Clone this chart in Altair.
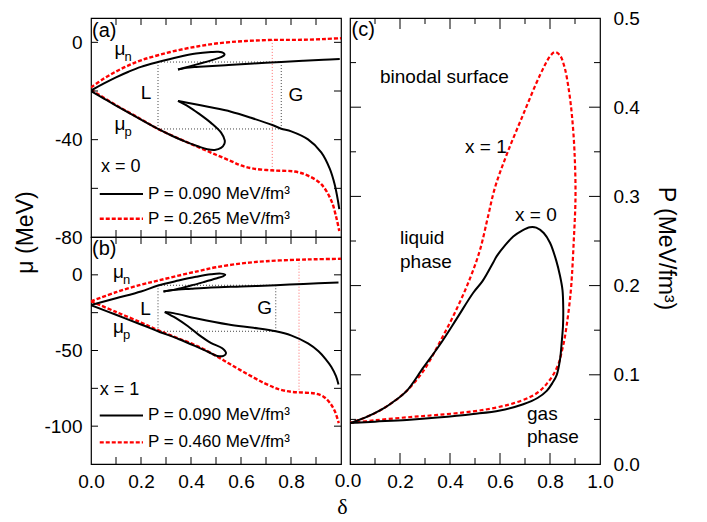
import altair as alt
import pandas as pd

FONT = "Liberation Sans"
RED = "#ff0000"

# ---------------- panel (a): x = 0 ----------------
a_blk_n1_d = [0.0, 0.05, 0.1, 0.15, 0.2, 0.268, 0.35, 0.42, 0.48, 0.51, 0.53, 0.534, 0.52, 0.49, 0.44, 0.39, 0.348]
a_blk_n1_m = [-19.8, -17.0, -14.4, -12.1, -10.1, -8.1, -6.0, -4.6, -4.0, -3.9, -4.4, -5.1, -6.1, -7.1, -8.6, -10.0, -11.2]
a_blk_n2_d = [0.348, 0.38, 0.42, 0.468, 0.55, 0.65, 0.761, 0.85, 0.93, 0.995]
a_blk_n2_m = [-11.2, -10.5, -10.1, -9.8, -9.3, -8.7, -8.1, -7.6, -7.2, -6.8]
a_blk_p1_d = [0.0, 0.05, 0.1, 0.15, 0.2, 0.268, 0.33, 0.38, 0.43, 0.465, 0.495, 0.52, 0.533, 0.535, 0.521, 0.481, 0.43, 0.39, 0.348]
a_blk_p1_m = [-20.0, -23.0, -26.0, -28.9, -31.8, -35.6, -38.7, -40.9, -42.8, -43.9, -44.2, -43.4, -41.8, -40.3, -37.2, -33.2, -29.2, -26.4, -24.1]
a_blk_p2_d = [0.348, 0.38, 0.468, 0.56, 0.64, 0.728, 0.761, 0.801, 0.868, 0.921, 0.955, 0.975, 0.988, 0.993]
a_blk_p2_m = [-24.1, -24.7, -26.5, -28.5, -31.0, -34.1, -35.5, -36.6, -39.9, -45.2, -51.9, -58.5, -65.2, -68.5]
a_red_n_d = [0.0, 0.05, 0.1, 0.15, 0.2, 0.268, 0.35, 0.43, 0.5, 0.58, 0.65, 0.725, 0.8, 0.87, 0.94, 1.0]
a_red_n_m = [-18.5, -15.0, -12.0, -9.5, -7.4, -5.3, -3.2, -1.6, -0.5, 0.3, 0.7, 1.0, 1.0, 1.1, 1.4, 1.7]
a_red_p_d = [0.0, 0.1, 0.2, 0.268, 0.35, 0.428, 0.5, 0.56, 0.6, 0.65, 0.735, 0.815, 0.868, 0.921, 0.961, 0.981, 0.993]
a_red_p_m = [-19.5, -25.8, -31.6, -35.6, -39.5, -43.0, -46.2, -48.8, -50.6, -51.9, -52.7, -53.1, -54.8, -58.3, -65.0, -71.9, -77.5]
a_box_d = [0.268, 0.761]
a_box_m = [-8.1, -35.6]
a_red_vline_d = 0.725
a_red_vline_m = [1.0, -52.7]

# ---------------- panel (b): x = 1 ----------------
b_blk_n1_d = [0.0, 0.1, 0.2, 0.268, 0.35, 0.42, 0.48, 0.52, 0.537, 0.53, 0.5, 0.45, 0.4, 0.34, 0.29]
b_blk_n1_m = [-20.0, -15.5, -11.0, -7.1, -3.8, -1.3, 0.4, 0.8, 0.0, -0.8, -2.4, -4.8, -7.1, -9.6, -11.0]
b_blk_n2_d = [0.29, 0.33, 0.4, 0.48, 0.6, 0.739, 0.85, 0.99]
b_blk_n2_m = [-11.0, -10.0, -9.2, -8.4, -7.7, -6.9, -6.0, -5.1]
b_blk_p1_d = [0.0, 0.1, 0.2, 0.268, 0.35, 0.42, 0.47, 0.505, 0.53, 0.54, 0.525, 0.481, 0.43, 0.388, 0.34, 0.295]
b_blk_p1_m = [-20.0, -26.4, -32.8, -37.3, -42.4, -47.3, -51.0, -53.6, -53.5, -51.8, -48.5, -45.1, -39.5, -34.0, -28.6, -24.6]
b_blk_p2_d = [0.295, 0.33, 0.428, 0.55, 0.65, 0.739, 0.80, 0.868, 0.91, 0.94, 0.961, 0.98, 0.99]
b_blk_p2_m = [-24.6, -25.3, -29.0, -32.8, -35.0, -37.3, -40.0, -45.3, -50.5, -56.0, -60.7, -67.0, -72.5]
b_red_n_d = [0.0, 0.1, 0.2, 0.268, 0.35, 0.43, 0.5, 0.6, 0.7, 0.83, 0.9, 1.0]
b_red_n_m = [-17.5, -11.5, -6.5, -3.8, -0.5, 2.5, 5.0, 7.5, 9.0, 10.0, 10.3, 10.6]
b_red_p_d = [0.0, 0.1, 0.2, 0.268, 0.35, 0.428, 0.5, 0.561, 0.63, 0.695, 0.75, 0.801, 0.85, 0.895, 0.93, 0.955, 0.975, 0.991]
b_red_p_m = [-17.5, -24.5, -31.5, -36.6, -42.0, -47.3, -53.5, -59.5, -66.0, -71.7, -75.5, -77.3, -77.8, -78.4, -80.5, -84.5, -90.0, -98.0]
b_box_d = [0.268, 0.739]
b_box_m = [-6.9, -37.3]
b_red_vline_d = 0.832
b_red_vline_m = [10.0, -77.5]

# ---------------- panel (c): binodal surfaces ----------------
c_red_d = [0.0, 0.1, 0.227, 0.35, 0.493, 0.58, 0.653, 0.72, 0.76, 0.79, 0.813, 0.835, 0.847, 0.858, 0.867, 0.876,
           0.885, 0.895, 0.902, 0.898, 0.888, 0.875, 0.858, 0.84, 0.82, 0.80, 0.76, 0.693, 0.627, 0.58, 0.55,
           0.52, 0.48, 0.427, 0.36, 0.293, 0.227, 0.17, 0.12, 0.06, 0.0]
c_red_p = [0.046, 0.049, 0.0523, 0.055, 0.059, 0.063, 0.068, 0.075, 0.082, 0.091, 0.100, 0.113, 0.126, 0.140, 0.156, 0.175,
           0.20, 0.25, 0.30, 0.35, 0.39, 0.42, 0.445, 0.458, 0.462, 0.457, 0.436, 0.392, 0.347, 0.310, 0.275,
           0.240, 0.208, 0.174, 0.137, 0.104, 0.082, 0.069, 0.060, 0.052, 0.046]
c_blk_d = [0.0, 0.1, 0.227, 0.35, 0.493, 0.6, 0.693, 0.75, 0.787, 0.81, 0.827, 0.84, 0.847, 0.852, 0.853, 0.85,
           0.84, 0.825, 0.8, 0.775, 0.745, 0.72, 0.69, 0.653, 0.62, 0.587, 0.573, 0.53, 0.493, 0.427, 0.36,
           0.293, 0.227, 0.17, 0.12, 0.06, 0.0]
c_blk_p = [0.046, 0.0475, 0.0494, 0.052, 0.056, 0.060, 0.067, 0.074, 0.082, 0.091, 0.100, 0.117, 0.137, 0.155, 0.174, 0.195,
           0.211, 0.228, 0.248, 0.259, 0.265, 0.2655, 0.262, 0.255, 0.245, 0.233, 0.226, 0.205, 0.192, 0.163, 0.134,
           0.108, 0.082, 0.069, 0.060, 0.052, 0.046]

legend_a = ["P = 0.090 MeV/fm\u00b3", "P = 0.265 MeV/fm\u00b3"]
legend_b = ["P = 0.090 MeV/fm\u00b3", "P = 0.460 MeV/fm\u00b3"]

W = 250
HA, HB, HC = 219, 227, 446
LBL = 19
TTL = 23


def neg_expr():
    return "(datum.value < 0 ? '-' : '') + format(abs(datum.value), 'd')"


def scales(ydom):
    xs = alt.Scale(domain=[0, 1], nice=False, zero=False)
    ys = alt.Scale(domain=ydom, nice=False, zero=False)
    return xs, ys


def encoders(xs, ys, xaxis, yaxis):
    def X(f="d"):
        return alt.X(f"{f}:Q", scale=xs, axis=xaxis)

    def Y(f="v"):
        return alt.Y(f"{f}:Q", scale=ys, axis=yaxis)
    return X, Y


def curve(X, Y, d, v, color, width, dash=None):
    df = pd.DataFrame({"d": d, "v": v, "i": list(range(len(d)))})
    kw = dict(color=color, strokeWidth=width, interpolate="catmull-rom", clip=True)
    if dash:
        kw["strokeDash"] = dash
    return alt.Chart(df).mark_line(**kw).encode(x=X(), y=Y(), order="i:Q")


def box(X, Y, ds, ms, color, dash, width=1):
    h = pd.DataFrame({"d": [ds[0], ds[0]], "d2": [ds[1], ds[1]], "v": ms})
    v = pd.DataFrame({"d": ds, "v": [ms[0], ms[0]], "v2": [ms[1], ms[1]]})
    hr = alt.Chart(h).mark_rule(color=color, strokeDash=dash, strokeWidth=width).encode(
        x=X(), x2=alt.X2("d2:Q"), y=Y())
    vr = alt.Chart(v).mark_rule(color=color, strokeDash=dash, strokeWidth=width).encode(
        x=X(), y=Y(), y2=alt.Y2("v2:Q"))
    return [hr, vr]


def vline(X, Y, d, ms, color, dash, width=1):
    df = pd.DataFrame({"d": [d], "v": [ms[0]], "v2": [ms[1]]})
    return alt.Chart(df).mark_rule(color=color, strokeDash=dash, strokeWidth=width).encode(
        x=X(), y=Y(), y2=alt.Y2("v2:Q"))


def txt(X, Y, d, v, s, size=18, align="left", baseline="middle", dx=0, dy=0, font=FONT):
    df = pd.DataFrame({"d": [d], "v": [v], "t": [s]})
    return alt.Chart(df).mark_text(align=align, baseline=baseline, dx=dx, dy=dy, font=font,
                                   fontSize=size, color="black").encode(x=X(), y=Y(), text="t:N")


def sym(X, Y, d, v, main, sub):
    return [txt(X, Y, d, v, main, size=19, baseline="alphabetic"),
            txt(X, Y, d, v, sub, size=13, baseline="alphabetic", dx=10, dy=6)]


def legend(X, Y, d1, d2, dt, v1, v2, labels, red_dash):
    l1 = pd.DataFrame({"d": [d1], "d2": [d2], "v": [v1]})
    l2 = pd.DataFrame({"d": [d1], "d2": [d2], "v": [v2]})
    r1 = alt.Chart(l1).mark_rule(color="black", strokeWidth=2).encode(x=X(), x2=alt.X2("d2:Q"), y=Y())
    r2 = alt.Chart(l2).mark_rule(color=RED, strokeWidth=2.4, strokeDash=red_dash).encode(
        x=X(), x2=alt.X2("d2:Q"), y=Y())
    return [r1, r2, txt(X, Y, dt, v1, labels[0], size=17), txt(X, Y, dt, v2, labels[1], size=17)]


def xticks(X, vals, h, L):
    df = pd.DataFrame({"d": vals})
    b = alt.Chart(df).mark_rule(color="black", strokeWidth=1).encode(x=X(), y=alt.value(h), y2=alt.value(h - L))
    t = alt.Chart(df).mark_rule(color="black", strokeWidth=1).encode(x=X(), y=alt.value(0), y2=alt.value(L))
    return [b, t]


def yticks(Y, vals, w, L):
    df = pd.DataFrame({"v": vals})
    l = alt.Chart(df).mark_rule(color="black", strokeWidth=1).encode(y=Y(), x=alt.value(0), x2=alt.value(L))
    r = alt.Chart(df).mark_rule(color="black", strokeWidth=1).encode(y=Y(), x=alt.value(w), x2=alt.value(w - L))
    return [l, r]


common_axis = dict(ticks=False, domain=False, grid=False, labelFont=FONT, labelFontSize=LBL,
                   labelFlush=False, labelColor="black")
minor_x = [0.1, 0.2, 0.3, 0.4, 0.5, 0.6, 0.7, 0.8, 0.9]

# ---- (a)
xs, ys = scales([-80, 10])
ya = alt.Axis(values=[0, -40, -80], labelPadding=9, labelExpr=neg_expr(), title=None, **common_axis)
Xa, Ya = encoders(xs, ys, None, ya)
layers_a = []
layers_a += box(Xa, Ya, a_box_d, a_box_m, "#444444", [1, 2])
layers_a.append(vline(Xa, Ya, a_red_vline_d, a_red_vline_m, "#ff6a6a", [1, 2]))
layers_a += [curve(Xa, Ya, a_red_n_d, a_red_n_m, RED, 2.4, [4, 2]),
             curve(Xa, Ya, a_red_p_d, a_red_p_m, RED, 2.4, [4, 2]),
             curve(Xa, Ya, a_blk_n1_d, a_blk_n1_m, "black", 2),
             curve(Xa, Ya, a_blk_n2_d, a_blk_n2_m, "black", 2),
             curve(Xa, Ya, a_blk_p1_d, a_blk_p1_m, "black", 2),
             curve(Xa, Ya, a_blk_p2_d, a_blk_p2_m, "black", 2)]
layers_a += xticks(Xa, minor_x, HA, 7) + yticks(Ya, [-60, -40, -20, 0], W, 7)
layers_a += [txt(Xa, Ya, 0.004, 4.6, "(a)", size=20),
             txt(Xa, Ya, 0.22, -20.8, "L", size=19, align="center"),
             txt(Xa, Ya, 0.82, -21.6, "G", size=19, align="center"),
             txt(Xa, Ya, 0.04, -51.4, "x = 0", size=18)]
layers_a += sym(Xa, Ya, 0.094, -5.4, "\u03bc", "n") + sym(Xa, Ya, 0.094, -36.0, "\u03bc", "p")
layers_a += legend(Xa, Ya, 0.035, 0.208, 0.228, -62.3, -72.5, legend_a, [4, 2])
panel_a = alt.layer(*layers_a).properties(width=W, height=HA)

# ---- (b)
xs, ys = scales([-125, 25])
xb = alt.Axis(values=[0.0, 0.2, 0.4, 0.6, 0.8], format=".1f", labelPadding=8, title=None, **common_axis)
yb = alt.Axis(values=[0, -50, -100], labelPadding=9, labelExpr=neg_expr(), title="\u03bc (MeV)",
              titleFont=FONT, titleFontSize=TTL, titleFontWeight="normal", titleColor="black",
              titleX=-66, titleY=-5, titleAngle=-90, titleAlign="center", titleBaseline="middle",
              **common_axis)
Xb, Yb = encoders(xs, ys, xb, yb)
layers_b = []
layers_b += box(Xb, Yb, b_box_d, b_box_m, "#444444", [1, 2])
layers_b.append(vline(Xb, Yb, b_red_vline_d, b_red_vline_m, "#ff6a6a", [1, 2]))
layers_b += [curve(Xb, Yb, b_red_n_d, b_red_n_m, RED, 2.4, [4, 2]),
             curve(Xb, Yb, b_red_p_d, b_red_p_m, RED, 2.4, [4, 2]),
             curve(Xb, Yb, b_blk_n1_d, b_blk_n1_m, "black", 2),
             curve(Xb, Yb, b_blk_n2_d, b_blk_n2_m, "black", 2),
             curve(Xb, Yb, b_blk_p1_d, b_blk_p1_m, "black", 2),
             curve(Xb, Yb, b_blk_p2_d, b_blk_p2_m, "black", 2)]
layers_b += xticks(Xb, minor_x, HB, 7) + yticks(Yb, [-100, -75, -50, -25, 0], W, 7)
layers_b += [txt(Xb, Yb, 0.004, 17.0, "(b)", size=20),
             txt(Xb, Yb, 0.218, -22.9, "L", size=19, align="center"),
             txt(Xb, Yb, 0.695, -21.7, "G", size=19, align="center"),
             txt(Xb, Yb, 0.035, -76.2, "x = 1", size=18)]
layers_b += sym(Xb, Yb, 0.088, -2.2, "\u03bc", "n") + sym(Xb, Yb, 0.088, -38.2, "\u03bc", "p")
layers_b += legend(Xb, Yb, 0.035, 0.208, 0.228, -92.9, -110.7, legend_b, [4, 2])
# shared bottom texts: the (c) panel's "0.0" tick label and the delta axis title
layers_b += [txt(Xb, Yb, 1.028, -125, "0.0", size=LBL, align="center", baseline="top", dy=8),
             txt(Xb, Yb, 1.006, -125, "\u03b4", size=22, align="center", baseline="middle", dy=43,
                 font="Liberation Serif")]
panel_b = alt.layer(*layers_b).properties(width=W, height=HB)

# ---- (c)
xs, ys = scales([0, 0.5])
xc = alt.Axis(values=[0.2, 0.4, 0.6, 0.8, 1.0], format=".1f", labelPadding=8, title=None, **common_axis)
yc = alt.Axis(values=[0.0, 0.1, 0.2, 0.3, 0.4, 0.5], format=".1f", orient="right", labelPadding=13,
              title="P (MeV/fm\u00b3)", titleFont=FONT, titleFontSize=TTL, titleFontWeight="normal",
              titleColor="black", titleAngle=90, titleX=65, titleY=230, titleAlign="center",
              titleBaseline="middle", **common_axis)
Xc, Yc = encoders(xs, ys, xc, yc)
layers_c = [curve(Xc, Yc, c_red_d, c_red_p, RED, 2.2, [4, 2.5]),
            curve(Xc, Yc, c_blk_d, c_blk_p, "black", 2)]
layers_c += xticks(Xc, [0.2, 0.4, 0.6, 0.8], HC, 11) + xticks(Xc, [0.1, 0.3, 0.5, 0.7, 0.9], HC, 6)
layers_c += yticks(Yc, [0.1, 0.2, 0.3, 0.4], W, 11) + yticks(Yc, [0.05, 0.15, 0.25, 0.35, 0.45], W, 6)
layers_c += [txt(Xc, Yc, 0.006, 0.487, "(c)", size=20),
             txt(Xc, Yc, 0.12, 0.434, "binodal surface", size=19),
             txt(Xc, Yc, 0.46, 0.355, "x = 1", size=19),
             txt(Xc, Yc, 0.66, 0.279, "x = 0", size=19),
             txt(Xc, Yc, 0.2, 0.253, "liquid", size=19),
             txt(Xc, Yc, 0.2, 0.226, "phase", size=19),
             txt(Xc, Yc, 0.708, 0.056, "gas", size=19),
             txt(Xc, Yc, 0.708, 0.030, "phase", size=19)]
panel_c = alt.layer(*layers_c).properties(width=W, height=HC)

# flush layout: the nested column has no intrinsic width, so spacing is the full offset of (c)
left = alt.vconcat(panel_a, panel_b, spacing=0, bounds="flush")
chart = alt.hconcat(left, panel_c, spacing=W + 9, bounds="flush").properties(
    padding={"left": 5, "top": 0, "right": 5, "bottom": 0}
).configure_view(stroke="black", strokeWidth=1.2)

chart.save("out.html", embed_options={"renderer": "svg", "actions": False})
